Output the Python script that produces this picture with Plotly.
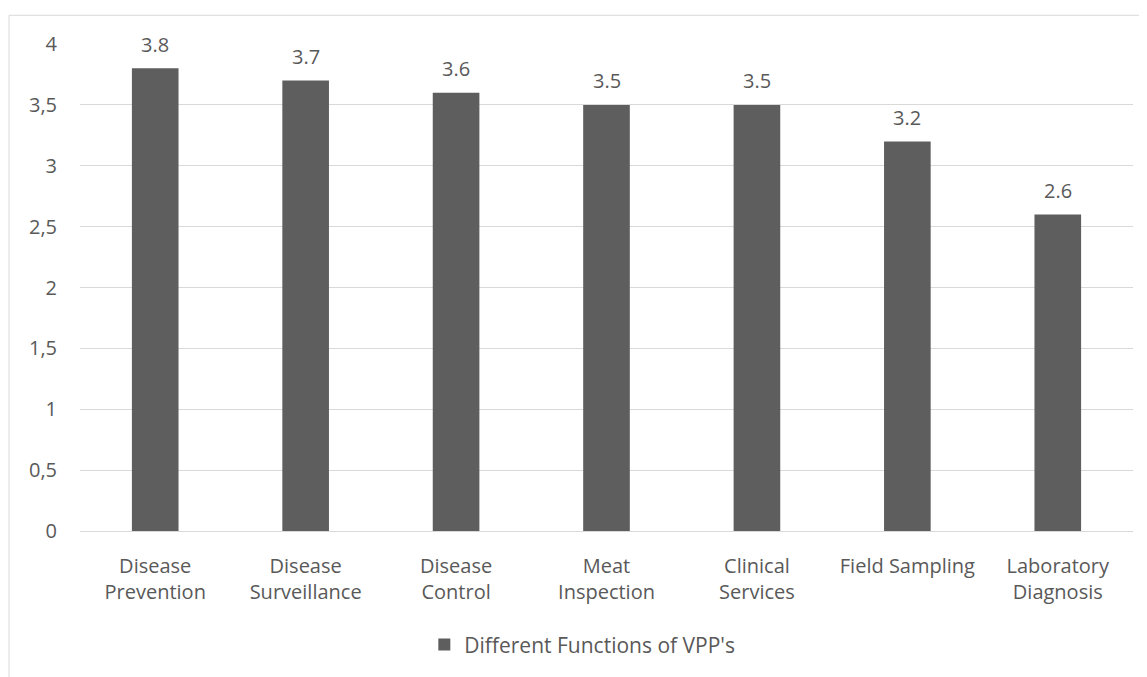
import plotly.graph_objects as go

categories = ["Disease<br>Prevention", "Disease<br>Surveillance", "Disease<br>Control",
              "Meat<br>Inspection", "Clinical<br>Services", "Field Sampling", "Laboratory<br>Diagnosis"]
values = [3.8, 3.7, 3.6, 3.5, 3.5, 3.2, 2.6]
series_name = "Different Functions of VPP's"
ytick_vals = [0, 0.5, 1, 1.5, 2, 2.5, 3, 3.5, 4]
ytick_text = ["0", "0,5", "1", "1,5", "2", "2,5", "3", "3,5", "4"]

FONT = "Open Sans"
TXT = "#595959"
GRID = "#d9d9d9"

fig = go.Figure()
fig.add_trace(go.Bar(
    x=categories, y=values, name=series_name,
    marker=dict(color="#5e5e5e", line=dict(width=0)),
    showlegend=True,
))

for c, v in zip(categories, values):
    fig.add_annotation(x=c, y=v, xref="x", yref="y", text=f"{v:.1f}",
                       showarrow=False, yanchor="middle", yshift=24,
                       font=dict(family=FONT, size=20, color=TXT))

fig.update_layout(
    width=1139, height=669,
    margin=dict(l=72, r=14, t=36, b=142),
    paper_bgcolor="white", plot_bgcolor="white",
    font=dict(family=FONT, size=20, color=TXT),
    bargap=0.69,
    showlegend=True,
    legend=dict(orientation="h", x=0.327, xanchor="left", y=-0.234, yanchor="middle",
                font=dict(family=FONT, size=21, color=TXT)),
    xaxis=dict(showgrid=False, showline=False, ticks="", tickfont=dict(size=20),
               ticklabelstandoff=21),
    yaxis=dict(range=[0, 4], tickvals=ytick_vals, ticktext=ytick_text,
               showgrid=True, gridcolor=GRID, gridwidth=1, zeroline=True,
               zerolinecolor=GRID, zerolinewidth=1, showline=False, ticks="",
               ticklabelstandoff=22, tickfont=dict(size=20)),
    shapes=[dict(type="rect", xref="paper", yref="paper",
                 x0=-0.0674, y0=-0.6, x1=1.2, y1=1.059,
                 line=dict(color=GRID, width=1), fillcolor="rgba(0,0,0,0)", layer="below")],
)

fig.write_html("out.html")
